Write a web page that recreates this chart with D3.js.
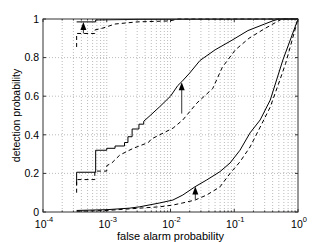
<!DOCTYPE html>
<html>
<head>
<meta charset="utf-8">
<script src="https://cdn.jsdelivr.net/npm/d3@7"></script>
<style>
  body { margin: 0; background: #fff; }
  svg { display: block; font-family: "Liberation Sans", Arial, sans-serif; }
</style>
</head>
<body>
<div id="chart"></div>
<script>
// data: [false alarm prob, detection prob]
const topSolid = [[3.37e-4, 0.985], [6.7e-4, 0.985], [6.7e-4, 0.995], [3e-3, 0.998], [1, 1]];
const topDashed = [[3.37e-4, 0.855], [3.37e-4, 0.925], [6.5e-4, 0.925], [6.5e-4, 0.943],
  [8.7e-4, 0.953], [1.35e-3, 0.974], [2.07e-3, 0.98], [3e-3, 0.985], [9.8e-3, 0.99], [1.3e-2, 1], [1, 1]];
const midSolid = [[3.37e-4, 0.14], [3.37e-4, 0.206], [6.7e-4, 0.206], [6.7e-4, 0.32], [1.0e-3, 0.32],
  [1.0e-3, 0.33], [1.35e-3, 0.33], [1.35e-3, 0.342], [1.9e-3, 0.342], [1.9e-3, 0.36], [2.15e-3, 0.36],
  [2.15e-3, 0.39], [2.5e-3, 0.39], [2.5e-3, 0.43], [3.2e-3, 0.43], [3.2e-3, 0.455], [3.8e-3, 0.455],
  [3.8e-3, 0.47], [4.8e-3, 0.5], [6.8e-3, 0.546], [1.0e-2, 0.6], [1.3e-2, 0.655], [1.5e-2, 0.675],
  [2.0e-2, 0.72], [2.9e-2, 0.785], [5.0e-2, 0.84], [9.2e-2, 0.89], [0.164, 0.94], [0.3, 0.974],
  [0.4, 0.99], [0.5, 1], [1, 1]];
const midDashed = [[3.37e-4, 0.10], [3.37e-4, 0.168], [6.5e-4, 0.168], [6.5e-4, 0.212], [1.0e-3, 0.212],
  [1.0e-3, 0.24], [1.2e-3, 0.254], [1.6e-3, 0.295], [2.6e-3, 0.33], [4.5e-3, 0.36], [5.0e-3, 0.378],
  [1.1e-2, 0.435], [1.56e-2, 0.477], [2.6e-2, 0.565], [4.6e-2, 0.64], [6.5e-2, 0.75], [0.104, 0.84],
  [0.17, 0.90], [0.3, 0.95], [0.435, 0.98], [0.56, 1], [1, 1]];
const lowSolid = [[3.37e-4, 0.008], [1e-3, 0.012], [2.3e-3, 0.02], [3.3e-3, 0.027], [6.8e-3, 0.047],
  [1.09e-2, 0.062], [1.56e-2, 0.088], [2.43e-2, 0.131], [3.7e-2, 0.166], [5.96e-2, 0.209],
  [8.6e-2, 0.254], [0.123, 0.32], [0.177, 0.41], [0.255, 0.477], [0.367, 0.58], [0.58, 0.788], [1, 1]];
const lowDashed = [[3.37e-4, 0.003], [1e-3, 0.008], [3.3e-3, 0.02], [6.8e-3, 0.027], [1.09e-2, 0.036],
  [1.56e-2, 0.047], [2.43e-2, 0.062], [3.7e-2, 0.088], [5.96e-2, 0.13], [8.6e-2, 0.2], [0.123, 0.26],
  [0.177, 0.337], [0.255, 0.44], [0.367, 0.544], [0.52, 0.684], [0.64, 0.77], [1, 1]];
// arrows: [x, from, to]
const arrows = [[4.3e-4, 0.925, 0.985], [1.5e-2, 0.51, 0.672], [2.45e-2, 0.066, 0.132]];

const xTicks = [1e-4, 1e-3, 1e-2, 1e-1, 1];
const xExponents = ["-4", "-3", "-2", "-1", "0"];
const yTicks = [0, 0.2, 0.4, 0.6, 0.8, 1];
const yTickLabels = ["0", "0.2", "0.4", "0.6", "0.8", "1"];
const xTitle = "false alarm probability";
const yTitle = "detection probability";

const width = 330, height = 242;
const margin = { top: 19, left: 43, right: 32, bottom: 30 };

const x = d3.scaleLog().domain([1e-4, 1]).range([margin.left, width - margin.right]);
const y = d3.scaleLinear().domain([0, 1]).range([height - margin.bottom, margin.top]);

// every 2..9 per decade, for grid + minor ticks
const minor = [];
for (let e = -4; e < 0; e++) for (let m = 2; m <= 9; m++) minor.push(m * Math.pow(10, e));

const svg = d3.select("#chart").append("svg")
  .attr("width", width).attr("height", height);

const grid = svg.append("g")
  .attr("stroke", "#aaa").attr("stroke-width", 0.8)
  .attr("stroke-dasharray", "1,2");
grid.selectAll(".gx").data(minor.concat(xTicks.slice(1, -1))).join("line")
  .attr("x1", (d) => x(d)).attr("x2", (d) => x(d))
  .attr("y1", y(0)).attr("y2", y(1));
grid.selectAll(".gy").data(yTicks.slice(1, -1)).join("line")
  .attr("x1", x(1e-4)).attr("x2", x(1))
  .attr("y1", (d) => y(d)).attr("y2", (d) => y(d));

// tick marks, inside, all four sides
const ticks = svg.append("g").attr("stroke", "#333").attr("stroke-width", 1);
ticks.selectAll(".mx").data(xTicks).join("line")
  .attr("x1", (d) => x(d)).attr("x2", (d) => x(d)).attr("y1", y(0)).attr("y2", y(0) - 3);
ticks.selectAll(".mx2").data(xTicks).join("line")
  .attr("x1", (d) => x(d)).attr("x2", (d) => x(d)).attr("y1", y(1)).attr("y2", y(1) + 3);
ticks.selectAll(".nx").data(minor).join("line")
  .attr("x1", (d) => x(d)).attr("x2", (d) => x(d)).attr("y1", y(0)).attr("y2", y(0) - 1.5);
ticks.selectAll(".nx2").data(minor).join("line")
  .attr("x1", (d) => x(d)).attr("x2", (d) => x(d)).attr("y1", y(1)).attr("y2", y(1) + 1.5);
ticks.selectAll(".my").data(yTicks).join("line")
  .attr("x1", x(1e-4)).attr("x2", x(1e-4) + 3).attr("y1", (d) => y(d)).attr("y2", (d) => y(d));
ticks.selectAll(".my2").data(yTicks).join("line")
  .attr("x1", x(1)).attr("x2", x(1) - 3).attr("y1", (d) => y(d)).attr("y2", (d) => y(d));

const line = d3.line().x((d) => x(d[0])).y((d) => y(d[1]));
const curves = [
  [topSolid, null], [topDashed, "4,3"],
  [midSolid, null], [midDashed, "4,3"],
  [lowSolid, null], [lowDashed, "4,3"],
];
svg.append("g").selectAll("path").data(curves).join("path")
  .attr("d", (d) => line(d[0]))
  .attr("fill", "none").attr("stroke", "#000").attr("stroke-width", 1)
  .attr("stroke-dasharray", (d) => d[1]);

// arrows
const ag = svg.append("g");
ag.selectAll("line").data(arrows).join("line")
  .attr("x1", (d) => x(d[0])).attr("x2", (d) => x(d[0]))
  .attr("y1", (d) => y(d[1])).attr("y2", (d) => y(d[2]) + 5)
  .attr("stroke", "#000").attr("stroke-width", 0.8);
ag.selectAll("path").data(arrows).join("path")
  .attr("d", (d) => {
    const px = x(d[0]), py = y(d[2]);
    return `M${px},${py}L${px - 3},${py + 8}L${px + 3},${py + 8}Z`;
  })
  .attr("fill", "#000");

// frame
svg.append("rect")
  .attr("x", x(1e-4)).attr("y", y(1))
  .attr("width", x(1) - x(1e-4)).attr("height", y(0) - y(1))
  .attr("fill", "none").attr("stroke", "#333").attr("stroke-width", 1);

// tick labels
svg.append("g").selectAll("text").data(yTicks).join("text")
  .attr("x", x(1e-4) - 4).attr("y", (d) => y(d) + 3.8)
  .attr("text-anchor", "end").attr("font-size", 10.5)
  .text((d, i) => yTickLabels[i]);

const xl = svg.append("g").selectAll("text").data(xTicks).join("text")
  .attr("x", (d) => x(d) + 1).attr("y", y(0) + 16)
  .attr("text-anchor", "middle").attr("font-size", 10.5);
xl.append("tspan").text("10");
xl.append("tspan").attr("dy", -6).attr("font-size", 7.5).text((d, i) => xExponents[i]);

svg.append("text")
  .attr("x", (x(1e-4) + x(1)) / 2).attr("y", 240)
  .attr("text-anchor", "middle").attr("font-size", 11)
  .text(xTitle);

svg.append("text")
  .attr("transform", `translate(20, ${(y(0) + y(1)) / 2}) rotate(-90)`)
  .attr("text-anchor", "middle").attr("font-size", 10.5)
  .text(yTitle);
</script>
</body>
</html>
